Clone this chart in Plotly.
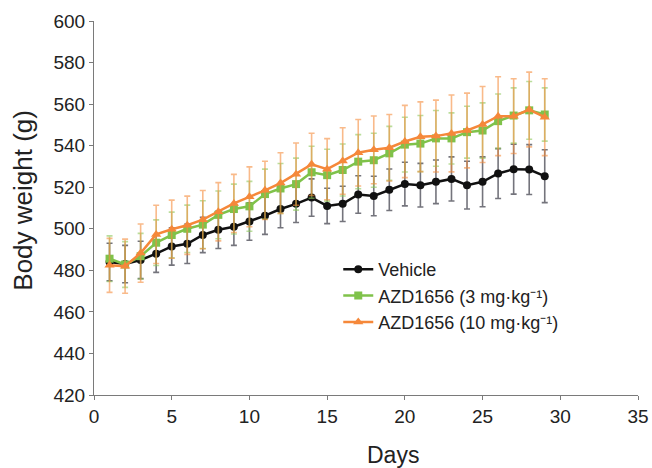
import plotly.graph_objects as go

days = list(range(1, 30))

vehicle = [484, 483, 485, 488, 491.5, 492.8, 497, 499.5, 501, 503.5, 506.3, 509.5, 512, 515, 511, 512, 516.5,
           515.8, 518.8, 521.5, 521, 522.6, 524, 521, 522.6, 526.6, 528.7, 528.5, 525.3]
vehicle_err = [9, 9, 9, 9, 9, 9.5, 8.5, 9, 9, 9, 9, 9, 9, 9, 8.5, 8.5, 9, 9.5, 10, 10.5, 10.5, 10.5, 10.6, 11.5, 12,
               12, 12, 12, 12.7]

azd3 = [485.6, 482.8, 486.8, 493.3, 497, 500, 502, 506.7, 509.5, 510.8, 516.7, 519.4, 521.5, 527.2, 525.8, 528.3,
        532.3, 533, 536.3, 540.5, 541, 543.5, 543.5, 546.5, 547.3, 551.8, 554.5, 557, 555]
azd3_err = [11, 11, 11, 11, 11, 11.4, 11.5, 11.5, 12, 12, 12, 12, 12.5, 12.5, 12.5, 12.5, 13, 13, 13, 13.2, 13.5,
            13.4, 12.3, 12.5, 13.3, 13.1, 13.3, 13.9, 12.8]

azd10 = [482.4, 482, 488.3, 497.3, 499.8, 501.7, 504.4, 508.2, 512.2, 515.4, 518.5, 522, 526.3, 531, 528.7, 532.6,
         536.6, 538, 539, 542, 544.3, 544.6, 545.9, 547.3, 550.2, 554.2, 554.2, 557.4, 553.7]
azd10_err = [13, 13, 14, 14, 14, 14, 14, 14, 14, 14.4, 14, 14.6, 15, 15, 14.7, 16, 16, 16.3, 16, 17.4, 16.8, 17.3,
             18.5, 18, 18.3, 19, 18, 18, 18.5]

x_ticks = [0, 5, 10, 15, 20, 25, 30, 35]
y_ticks = list(range(420, 601, 20))

font_family = "Liberation Sans, Arial, sans-serif"
txt = "#222222"

fig = go.Figure()

fig.add_trace(go.Scatter(
    x=days, y=vehicle, name="Vehicle", mode="lines+markers",
    line=dict(color="#111111", width=2.5),
    marker=dict(symbol="circle", size=8, color="#111111"),
    error_y=dict(type="data", array=vehicle_err, visible=True, color="rgba(70,70,80,0.75)", thickness=1.6, width=3),
))
fig.add_trace(go.Scatter(
    x=days, y=azd3, name="AZD1656 (3 mg·kg⁻¹)", mode="lines+markers",
    line=dict(color="#7fc24a", width=2.5),
    marker=dict(symbol="square", size=8, color="#7fc24a"),
    error_y=dict(type="data", array=azd3_err, visible=True, color="rgba(140,200,90,0.6)", thickness=1.6, width=3),
))
fig.add_trace(go.Scatter(
    x=days, y=azd10, name="AZD1656 (10 mg·kg⁻¹)", mode="lines+markers",
    line=dict(color="#f5883a", width=2.5),
    marker=dict(symbol="triangle-up", size=9, color="#f5883a"),
    error_y=dict(type="data", array=azd10_err, visible=True, color="rgba(245,140,60,0.6)", thickness=1.6, width=3),
))

axis_common = dict(
    showgrid=False, zeroline=False, showline=True, linecolor="#7a7a7a", linewidth=1.2,
    ticks="outside", ticklen=4, tickcolor="#7a7a7a", automargin=False,
    tickfont=dict(family=font_family, size=19, color=txt),
)

fig.update_layout(
    width=652, height=468,
    margin=dict(l=94, r=14, t=21, b=73),
    paper_bgcolor="white", plot_bgcolor="white",
    font=dict(family=font_family, color=txt),
    showlegend=True,
    legend=dict(
        x=0.449, y=0.385, xanchor="left", yanchor="top",
        font=dict(family=font_family, size=18, color=txt),
        bgcolor="rgba(0,0,0,0)", tracegroupgap=0, itemwidth=30,
    ),
    xaxis=dict(range=[0, 35], tickvals=x_ticks, **axis_common),
    yaxis=dict(range=[420, 600], tickvals=y_ticks, **axis_common),
    annotations=[
        dict(text="Days", xref="paper", yref="paper", x=0.55, y=-0.16, xanchor="center", yanchor="middle",
             showarrow=False, font=dict(family=font_family, size=23, color=txt)),
        dict(text="Body weight (g)", xref="paper", yref="paper", x=-0.132, y=0.52, xanchor="center",
             yanchor="middle", textangle=-90, showarrow=False, font=dict(family=font_family, size=26, color=txt)),
    ],
)

# remove the browser's default 8px page margin so the figure fills the window exactly
fig.write_html("out.html", config={"displayModeBar": False},
               post_script="document.body.style.margin='0';document.body.style.overflow='hidden';")
